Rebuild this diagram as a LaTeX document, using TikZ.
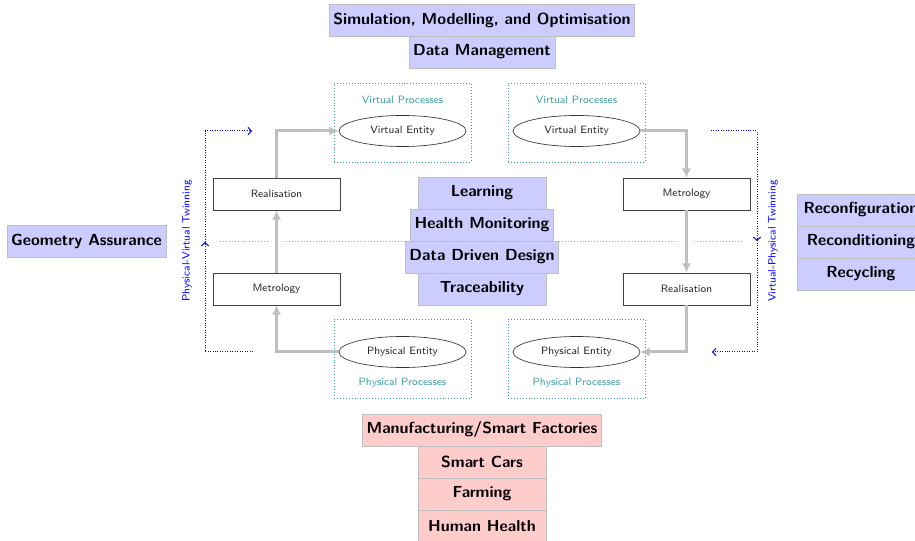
\documentclass[tikz,border=0pt]{standalone}
\usetikzlibrary{arrows.meta,decorations.markings,calc,shapes.geometric}
\begin{document}
\begin{tikzpicture}[x=0.75pt,y=-0.75pt,
  catbox/.style={draw=black!25, fill=blue!20, font=\large\sffamily\bfseries, minimum height=24pt, minimum width=96pt, inner xsep=3pt, inner ysep=0pt},
  appbox/.style={catbox, fill=red!20},
  stepbox/.style={draw=black!75, line width=0.5pt, font=\footnotesize\sffamily, text=black!85, minimum width=95.25pt, minimum height=24pt},
  entity/.style={ellipse, draw=black!80, line width=0.5pt, font=\footnotesize\sffamily, text=black!85, minimum width=95.25pt, minimum height=23.25pt, inner sep=0pt},
  procframe/.style={draw=teal!80, line width=0.7pt, dash pattern=on 0.7pt off 1.5pt, minimum width=102.75pt, minimum height=59.25pt, inner sep=0pt},
  proclabel/.style={text=teal!75, font=\footnotesize\sffamily},
  flow/.style={draw=black!25, line width=2.25pt, -{Latex[length=7pt,width=7pt]}},
  midline/.style={draw=teal!50, line width=0.7pt, dash pattern=on 0.7pt off 1.5pt},
  twinlabel/.style={text=blue, font=\footnotesize\sffamily, rotate=90},
  twin/.style={draw=blue, line width=0.75pt, dash pattern=on 0.75pt off 1.1pt, -{Straight Barb[length=2.5pt,width=5.5pt]},
    postaction={decorate},
    decoration={markings, mark=at position 0.5 with {\arrow{Straight Barb[length=2.5pt,width=5.5pt]}}}}
]
\useasboundingbox (0,0) rectangle (915,541);

% middle faint line (behind everything)
\coordinate (mlA) at (220,241);
\coordinate (mlB) at (742,241);
\coordinate (xL) at (276,241);
\coordinate (xR) at (686,241);
\draw[midline, shorten >=5.5pt] (mlA) -- (xL);
\draw[midline, shorten <=5.5pt, shorten >=6pt] (xL) -- (xR);
\draw[midline, shorten <=6pt] (xR) -- (mlB);

% top categories
\node[catbox] (sim) at (482,20) {Simulation, Modelling, and Optimisation};
\node[catbox] (dm) at (482,52) {Data Management};

% central stack
\node[catbox] (learn) at (482,193) {Learning};
\node[catbox] (hm) at (482,225) {Health Monitoring};
\node[catbox] (ddd) at (482,257) {Data Driven Design};
\node[catbox] (trace) at (482,289) {Traceability};

% left / right categories
\node[catbox] (ga) at (86.5,241) {Geometry Assurance};
\node[catbox] (rcf) at (861,210) {Reconfiguration};
\node[catbox] (rcd) at (861,242) {Reconditioning};
\node[catbox] (rcy) at (861,274) {Recycling};

% application stack
\node[appbox] (mfg) at (482,430) {Manufacturing/Smart Factories};
\node[appbox] (cars) at (482,462) {Smart Cars};
\node[appbox] (farm) at (482,494) {Farming};
\node[appbox] (hh) at (482,526) {Human Health};

% process frames
\node[procframe] (vpL) at (402.5,122.5) {};
\node[procframe] (vpR) at (576.5,122.5) {};
\node[procframe] (ppL) at (402.5,359) {};
\node[procframe] (ppR) at (576.5,359) {};
\node[proclabel] (vplL) at (402.5,100) {Virtual Processes};
\node[proclabel] (vplR) at (576.5,100) {Virtual Processes};
\node[proclabel] (pplL) at (402.5,383) {Physical Processes};
\node[proclabel] (pplR) at (576.5,383) {Physical Processes};

% entities
\node[entity] (veL) at (402.5,131) {Virtual Entity};
\node[entity] (veR) at (576.5,131) {Virtual Entity};
\node[entity] (peL) at (402.5,352) {Physical Entity};
\node[entity] (peR) at (576.5,352) {Physical Entity};

% steps
\node[stepbox] (reL) at (276.5,194) {Realisation};
\node[stepbox] (meL) at (276.5,289) {Metrology};
\node[stepbox] (meR) at (686.5,194) {Metrology};
\node[stepbox] (reR) at (686.5,289) {Realisation};

% flows
\draw[flow] (peL.west) -| (meL.south);
\draw[flow] (meL.north) -- (reL.south);
\draw[flow] (reL.north) |- (veL.west);
\draw[flow] (veR.east) -| (meR.north);
\draw[flow] (meR.south) -- (reR.north);
\draw[flow] (reR.south) |- (peR.east);

% twinning
\coordinate (tL1) at (253,352);
\coordinate (tL2) at (205,352);
\coordinate (tL3) at (205,131);
\coordinate (tL4) at (252,131);
\draw[twin] (tL1) -- (tL2) -- (tL3) -- (tL4);
\node[twinlabel] (tlL) at (187,241) {Physical-Virtual Twinning};

\coordinate (tR1) at (711,131);
\coordinate (tR2) at (757,131);
\coordinate (tR3) at (757,352);
\coordinate (tR4) at (712,352);
\draw[twin] (tR1) -- (tR2) -- (tR3) -- (tR4);
\node[twinlabel] (tlR) at (773,241) {Virtual-Physical Twinning};
\end{tikzpicture}
\end{document}
